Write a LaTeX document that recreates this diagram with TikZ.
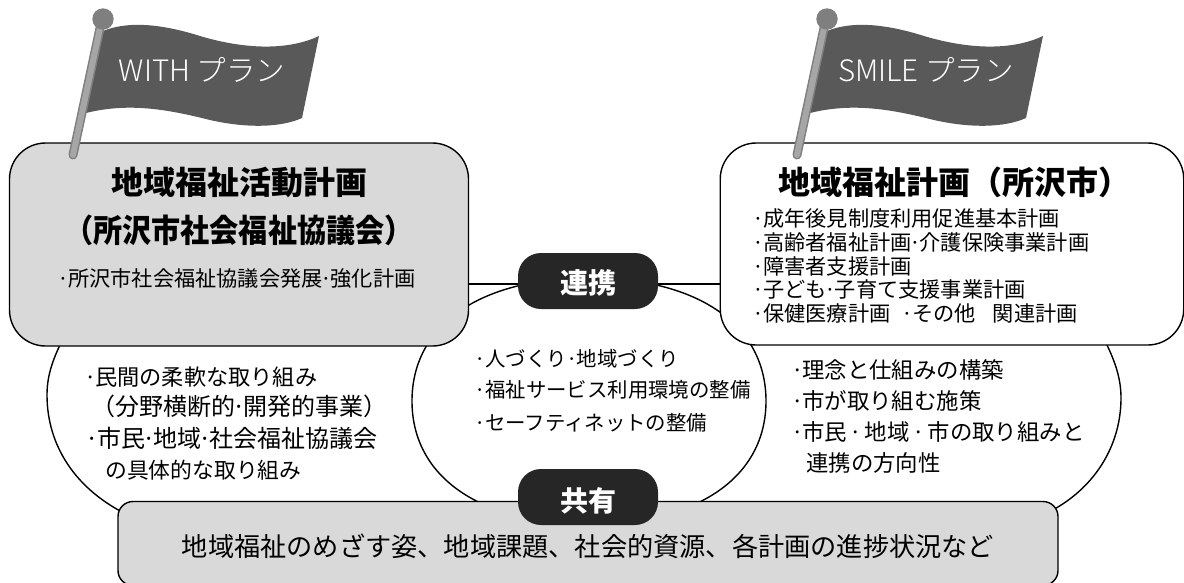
\documentclass[tikz,border=0pt]{standalone}
\usepackage{fontspec}
\setmainfont{Noto Sans CJK JP}
\newfontfamily\lightf{Noto Sans CJK JP Light}
\definecolor{boxgray}{HTML}{D9D9D9}
\definecolor{flaggray}{HTML}{595959}
\definecolor{polegray}{HTML}{A6A6A6}
\definecolor{balldark}{HTML}{7F7F7F}
\definecolor{pilldark}{HTML}{262626}
\newcommand\bul{\makebox[9pt][c]{·}}
\newcommand\idot{\makebox[8pt][c]{·}}
\tikzset{
  outl/.style={draw=black,line width=1.4pt},
  panel/.style={outl,rounded corners=36pt,inner sep=0pt},
  txt/.style={inner sep=0pt,anchor=base west,align=left},
  pill/.style={fill=pilldark,rounded corners=23pt,inner sep=0pt,minimum width=140pt,minimum height=56pt},
  pilltext/.style={text=white,font=\fontsize{28}{32}\selectfont\bfseries},
  flagbody/.style={fill=flaggray},
  polestick/.style={line width=9pt,line cap=round,draw=balldark},
  polecore/.style={line width=6pt,line cap=round,draw=polegray},
  flagtext/.style={text=white,font=\lightf\fontsize{29.5}{32}\selectfont},
  titlef/.style={font=\fontsize{32}{36}\selectfont\bfseries},
  listf/.style={txt,font=\fontsize{21.2}{24}\selectfont},
  midf/.style={txt,font=\fontsize{20.4}{24}\selectfont},
  sidef/.style={txt,font=\fontsize{22.4}{26}\selectfont},
  flagshape/.pic={
    \fill[flagbody] (103,31) .. controls (130,20) and (165,25) .. (200,36) .. controls (240,48) and (285,52) .. (319,36) -- (302,118) .. controls (280,128) and (245,128) .. (210,120) .. controls (170,110) and (130,102) .. (86,113) -- cycle;
    \draw[polestick] (100,28) -- (73,155);
    \draw[polecore] (100,28) -- (73,155);
    \fill[balldark] (103,19) circle (10.7);
  },
}
\begin{document}
\begin{tikzpicture}[x=1pt,y=-1pt]
\useasboundingbox (0,0) rectangle (1184,582);
\clip (0,0) rectangle (1184,582);
% bubbles
\draw[outl] (130,516) .. controls (75,490) and (47,445) .. (47,395) .. controls (47,375) and (53,358) .. (65,335);
\draw[outl] (1045,514) .. controls (1095,490) and (1121,445) .. (1121,398) .. controls (1121,378) and (1115,360) .. (1102,335);
\draw[outl] (589,278) .. controls (480,278) and (412,325) .. (412,401) .. controls (412,477) and (480,524) .. (589,524) .. controls (698,524) and (766,477) .. (766,401) .. controls (766,325) and (698,278) .. (589,278) -- cycle;
% panels
\node[panel,fill=boxgray,minimum width=459pt,minimum height=203pt] (left) at (239,244.5) {};
\node[panel,fill=white,minimum width=463.5pt,minimum height=202pt] (right) at (952,244) {};
\coordinate (ll) at (left.east |- 0,284);
\coordinate (lr) at (right.west |- 0,284);
\draw[outl] (ll) -- (lr);
\node[panel,fill=boxgray,rounded corners=15pt,minimum width=940pt,minimum height=84pt] (bottom) at (588,543.5) {};
\node[pill] (renkei) at (588,281) {};
\node[pill] (kyoyu) at (588,497) {};
\node[pilltext] (renkeit) at (588,283) {連携};
\node[pilltext] (kyoyut) at (588,501) {共有};
% flags
\pic at (0,0) {flagshape};
\pic at (724,0) {flagshape};
\node[flagtext] (fl) at (202,70) {WITH プラン};
\node[flagtext] (fr) at (926,70) {SMILE プラン};
% left panel
\node[titlef] (t1) at (239,182) {地域福祉活動計画};
\node[titlef,xscale=.91,transform shape] (t2) at (239,230) {（所沢市社会福祉協議会）};
\node[listf] (t3) at (59,286) {\bul 所沢市社会福祉協議会発展\idot 強化計画};
% right panel
\node[txt,titlef] (t4) at (778,194) {地域福祉計画（所沢市）};
\node[listf] (r1) at (754,226) {\bul 成年後見制度利用促進基本計画};
\node[listf] (r2) at (754,250) {\bul 高齢者福祉計画\idot 介護保険事業計画};
\node[listf] (r3) at (754,274) {\bul 障害者支援計画};
\node[listf] (r4) at (754,297) {\bul 子ども\idot 子育て支援事業計画};
\node[listf] (r5) at (754,321) {\bul 保健医療計画\hspace{13pt}\bul その他\hspace{17pt}関連計画};
% centre
\node[midf] (c1) at (476,366) {\bul 人づくり\makebox[10pt][c]{·}地域づくり};
\node[midf] (c2) at (476,397) {\bul 福祉サービス利用環境の整備};
\node[midf] (c3) at (476,430) {\bul セーフティネットの整備};
% left bubble
\node[sidef,font=\fontsize{22.2}{26}\selectfont] (l1) at (86,385) {\bul 民間の柔軟な取り組み};
\node[sidef,font=\fontsize{24}{26}\selectfont] (l2) at (91,415) {（分野横断的\idot 開発的事業）};
\node[sidef,font=\fontsize{24}{26}\selectfont] (l3) at (88,447) {\bul 市民\idot 地域\idot 社会福祉協議会};
\node[sidef,font=\fontsize{21.8}{26}\selectfont] (l4) at (105,478) {の具体的な取り組み};
% right bubble
\node[sidef] (rr1) at (793,378) {\bul 理念と仕組みの構築};
\node[sidef] (rr2) at (793,409) {\bul 市が取り組む施策};
\node[sidef] (rr3) at (793,440) {\bul 市民\makebox[18pt][c]{·}地域\makebox[18pt][c]{·}市の取り組みと};
\node[sidef] (rr4) at (806,471) {連携の方向性};
% bottom
\node[font=\fontsize{26.2}{30}\selectfont] (bt) at (588,546) {地域福祉のめざす姿、地域課題、社会的資源、各計画の進捗状況など};
\end{tikzpicture}
\end{document}
